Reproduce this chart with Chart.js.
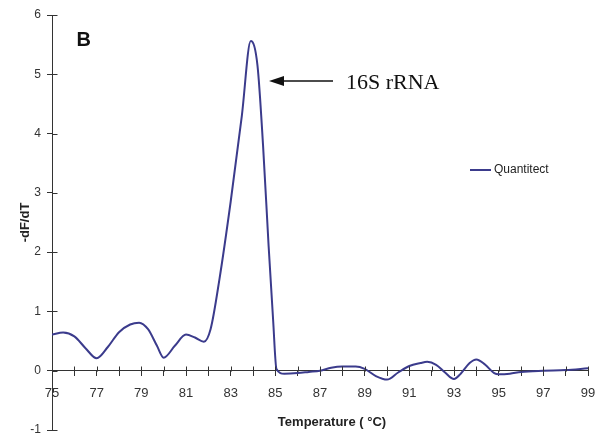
<!DOCTYPE html>
<html><head><meta charset="utf-8">
<script src="https://cdn.jsdelivr.net/npm/chart.js@4"></script>
<style>html,body{margin:0;padding:0;background:#fff;}#wrap{width:596px;height:437px;}</style>
</head><body><div id="wrap"><canvas id="c" width="596" height="437"></canvas></div>
<script>
// ---- data ----
const temperatures = [75.0,75.5,76.0,76.5,77.0,77.5,78.0,78.5,78.9,79.3,79.7,80.0,80.5,81.0,81.4,81.8,82.1,82.5,83.0,83.5,83.9,84.2,84.45,84.7,84.9,85.05,85.4,86.0,86.5,87.0,87.5,88.0,88.6,89.0,89.5,90.0,90.5,91.0,91.5,91.8,92.2,92.6,93.0,93.3,93.7,94.0,94.4,94.8,95.0,95.5,96.0,97.0,98.0,99.0];
const dFdT = [0.61,0.645,0.58,0.38,0.21,0.40,0.65,0.78,0.81,0.70,0.42,0.22,0.42,0.61,0.56,0.49,0.70,1.55,2.85,4.30,5.56,5.15,3.8,2.1,0.86,0.03,-0.05,-0.04,-0.02,0.0,0.05,0.07,0.07,0.03,-0.09,-0.15,-0.03,0.08,0.13,0.15,0.10,-0.03,-0.14,-0.05,0.13,0.19,0.10,-0.04,-0.06,-0.05,-0.02,0.0,0.01,0.04];
const xTickLabels = [75,77,79,81,83,85,87,89,91,93,95,97,99];
const yTickLabels = [-1,0,1,2,3,4,5,6];
const seriesName = 'Quantitect';
const panelLabel = 'B';
const annotationText = '16S rRNA';
const xTitle = 'Temperature ( °C)';
const yTitle = '-dF/dT';

const lineColor = '#3b3b8c';
const axisColor = '#333';

const extras = {
  id: 'extras',
  afterDraw(chart) {
    const ctx = chart.ctx;
    const xs = chart.scales.x, ys = chart.scales.y;
    ctx.save();
    // inner halves of tick marks (ticks cross the axes)
    ctx.strokeStyle = axisColor; ctx.lineWidth = 1;
    const y0 = Math.round(ys.getPixelForValue(0)) + 0.5;
    xs.ticks.forEach(t => {
      const px = Math.round(xs.getPixelForValue(t.value)) + 0.5;
      ctx.beginPath(); ctx.moveTo(px, y0); ctx.lineTo(px, y0 - 5); ctx.stroke();
    });
    const xl = Math.round(xs.getPixelForValue(xs.min)) + 0.5;
    ys.ticks.forEach(t => {
      const py = Math.round(ys.getPixelForValue(t.value)) + 0.5;
      ctx.beginPath(); ctx.moveTo(xl, py); ctx.lineTo(xl + 5, py); ctx.stroke();
    });
    // panel label
    ctx.fillStyle = '#111';
    ctx.font = 'bold 20px "Liberation Sans", Arial, sans-serif';
    ctx.textBaseline = 'alphabetic'; ctx.textAlign = 'left';
    ctx.fillText(panelLabel, 76.5, 46);
    // arrow
    ctx.strokeStyle = '#111'; ctx.lineWidth = 1.5;
    ctx.beginPath(); ctx.moveTo(282, 81); ctx.lineTo(333, 81); ctx.stroke();
    ctx.fillStyle = '#111';
    ctx.beginPath(); ctx.moveTo(269, 81); ctx.lineTo(284, 76); ctx.lineTo(284, 86); ctx.closePath(); ctx.fill();
    ctx.font = '22px "Liberation Serif", "Times New Roman", serif';
    ctx.fillText(annotationText, 346, 89);
    // legend
    ctx.strokeStyle = lineColor; ctx.lineWidth = 2;
    ctx.beginPath(); ctx.moveTo(470, 170); ctx.lineTo(491, 170); ctx.stroke();
    ctx.fillStyle = '#222';
    ctx.font = '12px "Liberation Sans", Arial, sans-serif';
    ctx.textBaseline = 'middle';
    ctx.fillText(seriesName, 494, 170);
    // x title
    ctx.font = 'bold 13px "Liberation Sans", Arial, sans-serif';
    ctx.textBaseline = 'alphabetic'; ctx.textAlign = 'center';
    ctx.fillText(xTitle, 332, 426);
    ctx.restore();
  }
};

new Chart(document.getElementById('c'), {
  type: 'line',
  data: {
    datasets: [{
      label: seriesName,
      data: temperatures.map((t, i) => ({x: t, y: dFdT[i]})),
      borderColor: lineColor,
      borderWidth: 2,
      pointRadius: 0,
      fill: false,
      cubicInterpolationMode: 'monotone'
    }]
  },
  options: {
    responsive: false,
    animation: false,
    layout: {padding: {left: 0, top: 15, right: 8, bottom: 7}},
    plugins: {legend: {display: false}, tooltip: {enabled: false}},
    scales: {
      x: {
        type: 'linear',
        min: 75, max: 99,
        position: {y: 0},
        afterFit(scale) {
          scale.height = 0;
          scale.paddingLeft = 0; scale.paddingRight = 0;
          scale.paddingTop = 0; scale.paddingBottom = 0;
        },
        ticks: {
          stepSize: 1, autoSkip: false, maxRotation: 0, padding: 10,
          color: axisColor,
          font: {family: '"Liberation Sans", Arial, sans-serif', size: 13},
          callback: v => xTickLabels.includes(v) ? String(v) : ''
        },
        grid: {drawOnChartArea: false, drawTicks: true, tickLength: 5, color: axisColor},
        border: {color: axisColor, width: 1}
      },
      y: {
        min: -1, max: 6,
        afterFit(scale) {
          scale.width = 52;
          scale.paddingLeft = 0; scale.paddingRight = 0;
          scale.paddingTop = 0; scale.paddingBottom = 0;
        },
        ticks: {
          stepSize: 1, padding: 6, color: axisColor,
          font: {family: '"Liberation Sans", Arial, sans-serif', size: 12},
          callback: v => yTickLabels.includes(v) ? String(v) : ''
        },
        grid: {drawOnChartArea: false, drawTicks: true, tickLength: 5, color: axisColor},
        border: {color: axisColor, width: 1},
        title: {
          display: true, text: yTitle, color: '#222',
          font: {family: '"Liberation Sans", Arial, sans-serif', size: 13, weight: 'bold'},
          padding: {top: 18, bottom: 0}
        }
      }
    }
  },
  plugins: [extras]
});
</script></body></html>
